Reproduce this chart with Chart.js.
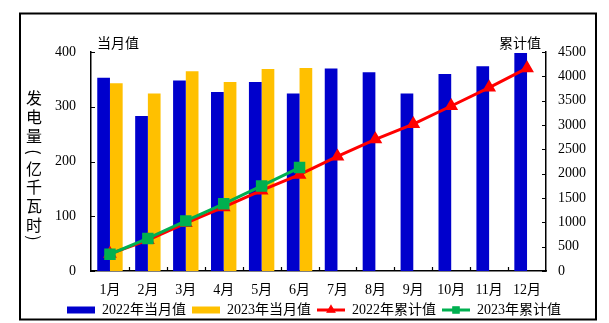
<!DOCTYPE html>
<html>
<head>
<meta charset="utf-8">
<script src="https://cdn.jsdelivr.net/npm/chart.js@4.4.0/dist/chart.umd.min.js"></script>
<style>
  html, body { margin: 0; padding: 0; background: #fff; }
  #wrap { position: relative; width: 609px; height: 323px; }
</style>
</head>
<body>
<div id="wrap"><canvas id="grafico"></canvas></div>
<script>
// dados
const meses = ["1月", "2月", "3月", "4月", "5月", "6月", "7月", "8月", "9月", "10月", "11月", "12月"];
const mensal2022 = [353, 283, 348, 327, 345, 324, 370, 363, 324, 360, 374, 398];
const mensal2023 = [343, 324, 365, 345, 369, 371, null, null, null, null, null, null];
const acumulado2022 = [353, 636, 984, 1311, 1656, 1980, 2355, 2705, 3020, 3390, 3768, 4168];
const acumulado2023 = [344, 670, 1030, 1380, 1748, 2125, null, null, null, null, null, null];
const nomesSeries = ["2022年当月值", "2023年当月值", "2022年累计值", "2023年累计值"];
const tituloEixo = ["发", "电", "量", "(", "亿", "千", "瓦", "时", ")"];

const FONTE = '"Liberation Serif", "Noto Sans CJK SC", serif';
const FONTE_CJK = '"Noto Sans CJK SC", sans-serif';

const moldura = {
  id: "moldura",
  afterDraw(chart) {
    const ctx = chart.ctx;
    const area = chart.chartArea;
    ctx.save();

    // moldura externa
    ctx.strokeStyle = "#000";
    ctx.lineWidth = 2;
    ctx.strokeRect(20, 13.5, 576, 306);

    // títulos dos eixos
    ctx.fillStyle = "#000";
    ctx.textBaseline = "middle";
    ctx.font = "14px " + FONTE_CJK;
    ctx.textAlign = "left";
    ctx.fillText("当月值", area.left + 6, 43);
    ctx.textAlign = "right";
    ctx.fillText("累计值", area.right - 5, 43);

    // título vertical, parênteses girados
    ctx.font = "16px " + FONTE_CJK;
    ctx.textAlign = "center";
    const posY = [98, 117, 136, 152, 168.5, 187, 205.7, 225, 238];
    tituloEixo.forEach((c, i) => {
      if (c === "(" || c === ")") {
        ctx.save();
        ctx.translate(34, posY[i]);
        ctx.rotate(Math.PI / 2);
        ctx.fillText(c, 0, 0);
        ctx.restore();
      } else {
        ctx.fillText(c, 34, posY[i]);
      }
    });

    // marcas internas dos eixos
    ctx.lineWidth = 1.2;
    ctx.beginPath();
    const yEsq = chart.scales.y;
    yEsq.ticks.forEach((t, i) => {
      const py = Math.round(yEsq.getPixelForTick(i)) + 0.5;
      ctx.moveTo(area.left, py);
      ctx.lineTo(area.left + 4, py);
    });
    const yDir = chart.scales.y1;
    yDir.ticks.forEach((t, i) => {
      const py = Math.round(yDir.getPixelForTick(i)) + 0.5;
      ctx.moveTo(area.right, py);
      ctx.lineTo(area.right - 4, py);
    });
    const x = chart.scales.x;
    for (let i = 1; i < meses.length; i++) {
      const px = Math.round((x.getPixelForValue(i - 1) + x.getPixelForValue(i)) / 2) + 0.5;
      ctx.moveTo(px, area.bottom);
      ctx.lineTo(px, area.bottom - 4);
    }
    ctx.stroke();

    // marcadores na legenda das linhas
    const leg = chart.legend;
    leg.legendItems.forEach((item, i) => {
      const ds = chart.data.datasets[item.datasetIndex];
      if (ds.type !== "line") return;
      const hb = leg.legendHitBoxes[i];
      ctx.fillStyle = ds.borderColor;
      ctx.strokeStyle = ds.borderColor;
      Chart.helpers.drawPoint(ctx, {
        pointStyle: ds.pointStyle,
        radius: 4.5,
        rotation: 0,
        borderWidth: 1,
      }, hb.left + 14, hb.top + 7);
    });

    ctx.restore();
  },
};

const fonteEixo = { family: FONTE, size: 14 };

new Chart(document.getElementById("grafico"), {
  data: {
    labels: meses,
    datasets: [
      {
        type: "bar",
        label: nomesSeries[0],
        data: mensal2022,
        backgroundColor: "#0000CC",
        yAxisID: "y",
        order: 3,
        categoryPercentage: 0.67,
        barPercentage: 1,
      },
      {
        type: "bar",
        label: nomesSeries[1],
        data: mensal2023,
        backgroundColor: "#FFC000",
        yAxisID: "y",
        order: 3,
        categoryPercentage: 0.67,
        barPercentage: 1,
      },
      {
        type: "line",
        label: nomesSeries[2],
        data: acumulado2022,
        borderColor: "#FF0000",
        backgroundColor: "#FF0000",
        borderWidth: 3,
        pointStyle: "triangle",
        pointRadius: 5,
        yAxisID: "y1",
        order: 1,
      },
      {
        type: "line",
        label: nomesSeries[3],
        data: acumulado2023,
        borderColor: "#00B050",
        backgroundColor: "#00B050",
        borderWidth: 3,
        pointStyle: "rect",
        pointRadius: 6,
        yAxisID: "y1",
        order: 0,
      },
    ],
  },
  options: {
    responsive: true,
    maintainAspectRatio: false,
    animation: false,
    layout: { padding: { top: 52, left: 19, right: 0, bottom: -4 } },
    plugins: {
      tooltip: { enabled: false },
      legend: {
        position: "bottom",
        labels: {
          color: "#000",
          font: { family: FONTE, size: 14 },
          padding: 6,
          usePointStyle: true,
          pointStyleWidth: 28,
          boxHeight: 7,
          sort: (a, b) => a.datasetIndex - b.datasetIndex,
          generateLabels(chart) {
            const itens = Chart.defaults.plugins.legend.labels.generateLabels(chart);
            itens.forEach((it) => {
              const ds = chart.data.datasets[it.datasetIndex];
              if (ds.type === "line") {
                it.pointStyle = "line";
                it.lineWidth = 3;
                it.strokeStyle = ds.borderColor;
              } else {
                it.pointStyle = "rect";
                it.lineWidth = 0;
              }
            });
            return itens;
          },
        },
      },
    },
    scales: {
      x: {
        offset: true,
        grid: { display: false, drawTicks: false },
        border: { display: true, color: "#000", width: 1.5 },
        ticks: { color: "#000", font: fonteEixo, padding: 11, maxRotation: 0 },
        afterFit(s) { s.height = 26; },
      },
      y: {
        position: "left",
        min: 0,
        max: 400,
        grid: { display: false, drawTicks: false },
        border: { display: true, color: "#000", width: 1.5 },
        ticks: { stepSize: 100, color: "#000", font: fonteEixo, padding: 15 },
        afterFit(s) { s.width = 72; },
      },
      y1: {
        position: "right",
        min: 0,
        max: 4500,
        grid: { display: false, drawTicks: false },
        border: { display: true, color: "#000", width: 1.5 },
        ticks: {
          stepSize: 500,
          color: "#000",
          font: fonteEixo,
          padding: 12,
          callback: (v) => String(v),
        },
        afterFit(s) { s.width = 63; },
      },
    },
  },
  plugins: [moldura],
});
</script>
</body>
</html>
